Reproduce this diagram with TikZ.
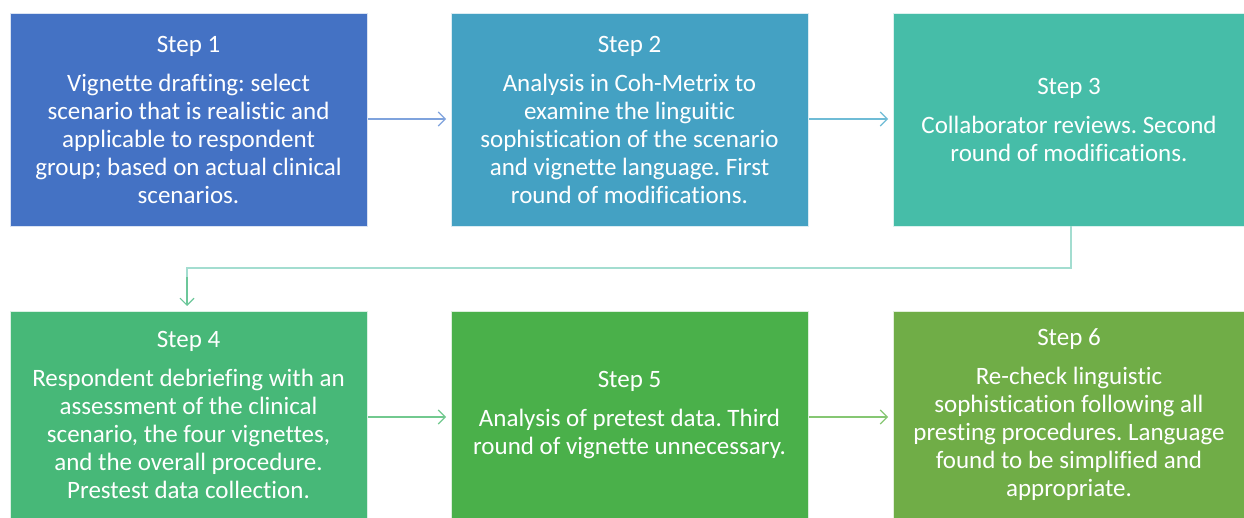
\documentclass[tikz,border=0pt]{standalone}
\usepackage{fontspec}
\setmainfont{Carlito}[Ligatures={NoCommon}]
\frenchspacing
\usetikzlibrary{arrows.meta}
\definecolor{c1}{HTML}{4472C4}
\definecolor{c2}{HTML}{44A1C3}
\definecolor{c3}{HTML}{46BDA8}
\definecolor{c4}{HTML}{47B878}
\definecolor{c5}{HTML}{4AB04A}
\definecolor{c6}{HTML}{70AD47}
\definecolor{a1}{HTML}{7FA3DD}
\definecolor{a2}{HTML}{6FBCD6}
\definecolor{a3}{HTML}{A3DDD0}
\definecolor{a3h}{HTML}{6CC79A}
\definecolor{a4}{HTML}{72C98F}
\definecolor{a5}{HTML}{86C773}
\tikzset{
  stepbox/.style={anchor=north west, inner sep=0pt, outer sep=0pt, text=white,
    align=center, font=\fontsize{25pt}{28pt}\selectfont\frenchspacing, draw=white!80!#1, line width=0.6pt, fill=#1},
  flow/.style={line width=1.1pt, -{Straight Barb[length=7pt,width=14pt,line width=1.1pt]}}
}
\begin{document}
\begin{tikzpicture}[x=1pt,y=1pt]
\path[use as bounding box, fill=white] (0,0) rectangle (1244,-518);
\node[stepbox=c1, minimum width=357pt, minimum height=213pt] (s1) at (10,-13)
 {Step 1\\[11pt]Vignette drafting: select\\scenario that is realistic and\\applicable to respondent\\group; based on actual clinical\\scenarios.};
\node[stepbox=c2, minimum width=357pt, minimum height=213pt] (s2) at (451,-13)
 {Step 2\\[11pt]Analysis in Coh-Metrix to\\examine the linguitic\\sophistication of the scenario\\and vignette language. First\\round of modifications.};
\node[stepbox=c3, minimum width=352pt, minimum height=213pt] (s3) at (893,-13)
 {Step 3\\[11pt]Collaborator reviews. Second\\round of modifications.};
\node[stepbox=c4, minimum width=357pt, minimum height=208pt] (s4) at (10,-311)
 {Step 4\\[11pt]Respondent debriefing with an\\assessment of the clinical\\scenario, the four vignettes,\\and the overall procedure.\\Prestest data collection.};
\node[stepbox=c5, minimum width=357pt, minimum height=208pt] (s5) at (451,-311)
 {Step 5\\[11pt]Analysis of pretest data. Third\\round of vignette unnecessary.};
\node[stepbox=c6, minimum width=352pt, minimum height=208pt] (s6) at (893,-311)
 {Step 6\\[11pt]Re-check linguistic\\sophistication following all\\presting procedures. Language\\found to be simplified and\\appropriate.};
\coordinate (k1) at (1071,-268);
\coordinate (k2) at (187,-268);
\draw[flow, a1] ([xshift=1pt,yshift=-106pt]s1.north east) -- ([xshift=-5pt,yshift=-106pt]s2.north west);
\draw[flow, a2] ([xshift=1pt,yshift=-106pt]s2.north east) -- ([xshift=-5pt,yshift=-106pt]s3.north west);
\draw[line width=1.3pt, a3] (s3.south -| k1) -- (k1) -- (k2) -- ([yshift=-10pt]k2);
\draw[flow, a3h] ([yshift=-9pt]k2) -- ([yshift=5pt]s4.north -| k2);
\draw[flow, a4] ([xshift=1pt,yshift=-106pt]s4.north east) -- ([xshift=-5pt,yshift=-106pt]s5.north west);
\draw[flow, a5] ([xshift=1pt,yshift=-106pt]s5.north east) -- ([xshift=-5pt,yshift=-106pt]s6.north west);
\end{tikzpicture}
\end{document}
